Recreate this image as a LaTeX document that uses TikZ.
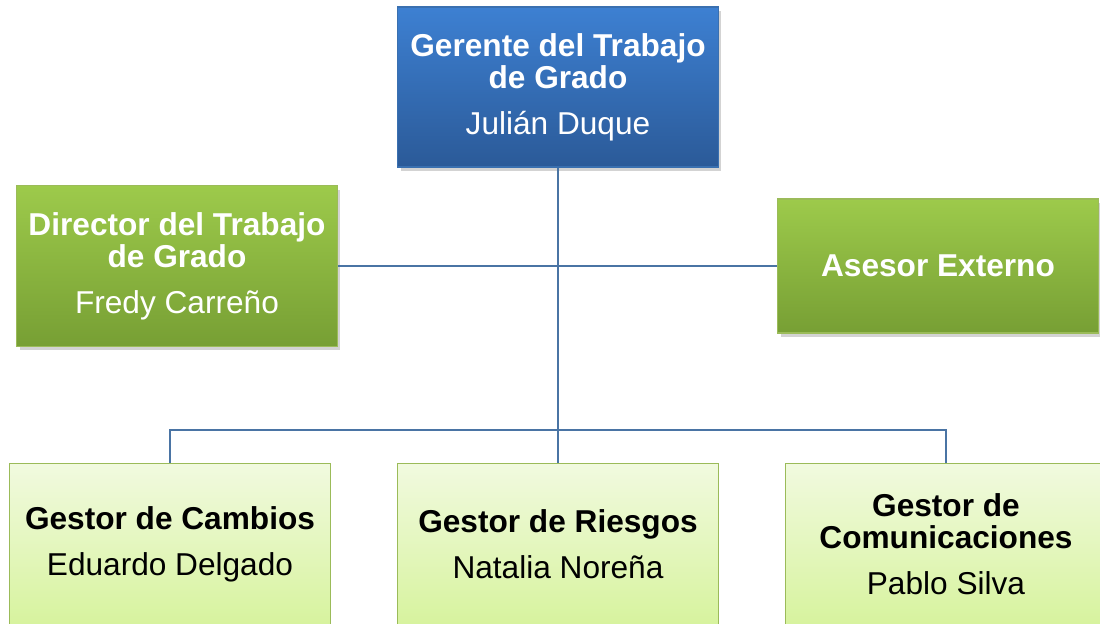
\documentclass[tikz,border=0pt]{standalone}
\usepackage{fontspec}
\setmainfont{Liberation Sans}
\usetikzlibrary{shadows}

\definecolor{headtop}{HTML}{3D80D2}
\definecolor{headbot}{HTML}{2B5A98}
\definecolor{headedge}{HTML}{3A70B0}
\definecolor{leadtop}{HTML}{9DCA4B}
\definecolor{leadbot}{HTML}{779F34}
\definecolor{leadedge}{HTML}{9BBB59}
\definecolor{stafftop}{HTML}{F1FADF}
\definecolor{staffbot}{HTML}{D7F39E}
\definecolor{linkblue}{HTML}{4A74A4}

\begin{document}
\begin{tikzpicture}[x=0.02cm,y=-0.02cm]
  \tikzset{
    orgbox/.style={draw, line width=0.8pt, minimum width=6.42cm, align=center,
      inner sep=0pt, font=\fontsize{18}{18.5}\selectfont},
    headbox/.style={orgbox, draw=headedge, top color=headtop, bottom color=headbot,
      text=white, minimum height=3.2cm,
      drop shadow={opacity=0.35, shadow xshift=0.6mm, shadow yshift=-0.8mm}},
    leadbox/.style={orgbox, draw=leadedge, top color=leadtop, bottom color=leadbot,
      text=white,
      drop shadow={opacity=0.35, shadow xshift=0.6mm, shadow yshift=-0.8mm}},
    staffbox/.style={orgbox, draw=leadedge, top color=stafftop, bottom color=staffbot,
      text=black, minimum height=3.22cm},
    orgline/.style={draw=linkblue, line width=1.4pt},
  }
  \useasboundingbox (0,0) rectangle (1100,624);
  \clip (0,0) rectangle (1100,624);

  % top
  \node[headbox] (gerente) at (558,87)
    {\textbf{Gerente del Trabajo}\\\textbf{de Grado}\\[7.5pt]Julián Duque};

  % second level
  \node[leadbox, minimum height=3.22cm] (director) at (177,266)
    {\textbf{Director del Trabajo}\\\textbf{de Grado}\\[7.5pt]Fredy Carreño};
  \node[leadbox, minimum height=2.68cm] (asesor) at (938,266)
    {\textbf{Asesor Externo}};

  % third level
  \node[staffbox] (cambios) at (170,544)
    {\textbf{Gestor de Cambios}\\[7.5pt]Eduardo Delgado};
  \node[staffbox] (riesgos) at (558,544)
    {\textbf{Gestor de Riesgos}\\[7.5pt]Natalia Noreña};
  \node[staffbox] (comunic) at (946,544)
    {\textbf{Gestor de}\\\textbf{Comunicaciones}\\[7.5pt]Pablo Silva};

  \coordinate (split) at (558,430);

  \draw[orgline] (gerente.south) -- (riesgos.north);
  \draw[orgline] (director.east) -- (asesor.west);
  \draw[orgline] (cambios.north) |- (split) -| (comunic.north);
\end{tikzpicture}
\end{document}
